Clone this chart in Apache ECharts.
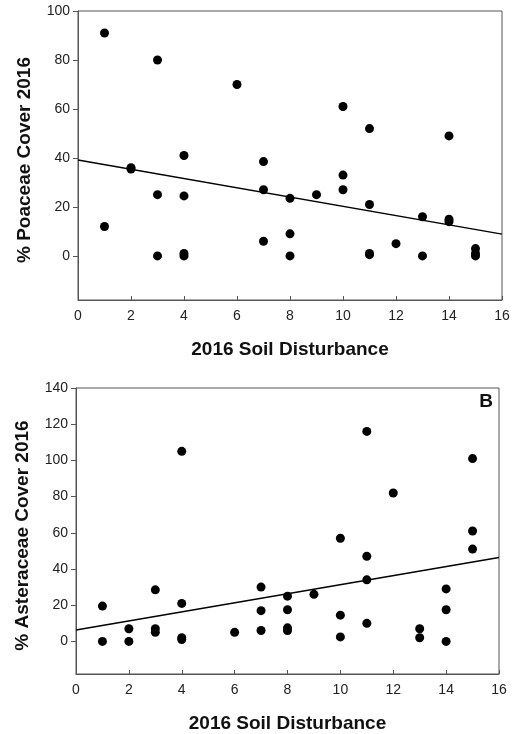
<!DOCTYPE html>
<html>
<head>
<meta charset="utf-8">
<script src="https://cdn.jsdelivr.net/npm/echarts@6/dist/echarts.min.js"></script>
<style>
html,body{margin:0;padding:0;background:#fff;}
#chart{width:515px;height:734px;}
</style>
</head>
<body>
<div id="chart"></div>
<script>
// ---- Data ----
var xTicks = [0, 2, 4, 6, 8, 10, 12, 14, 16];
var yTicksTop = [0, 20, 40, 60, 80, 100];
var yTicksBottom = [0, 20, 40, 60, 80, 100, 120, 140];

var poaceaeX = [1, 1, 2, 2, 3, 3, 3, 4, 4, 4, 4, 6, 7, 7, 7, 8, 8, 8, 9, 10, 10, 10, 11, 11, 11, 11, 12, 13, 13, 14, 14, 14, 15, 15, 15];
var poaceaeY = [91, 12, 36, 35.5, 80, 25, 0, 41, 24.5, 1, 0, 70, 38.5, 27, 6, 23.5, 9, 0, 25, 61, 33, 27, 52, 21, 1, 0.5, 5, 16, 0, 49, 15, 14, 3, 1, 0];
var poaceaeFitX = [0, 16];
var poaceaeFitY = [39.2, 8.9];

var asteraceaeX = [1, 1, 2, 2, 3, 3, 3, 4, 4, 4, 4, 6, 7, 7, 7, 8, 8, 8, 8, 9, 10, 10, 10, 11, 11, 11, 11, 12, 13, 13, 14, 14, 14, 15, 15, 15];
var asteraceaeY = [19.5, 0, 7, 0, 28.5, 7, 5, 105, 21, 2, 1, 5, 30, 17, 6, 25, 17.5, 7.5, 6, 26, 57, 14.5, 2.5, 116, 47, 34, 10, 82, 7, 2, 29, 17.5, 0, 101, 61, 51];
var asteraceaeFitX = [0, 16];
var asteraceaeFitY = [6.3, 46.3];

var xTitle = '2016 Soil Disturbance';
var yTitleTop = '% Poaceae Cover 2016';
var yTitleBottom = '% Asteraceae Cover 2016';
var panelLabel = 'B';

function pairs(xs, ys) { return xs.map(function (x, i) { return [x, ys[i]]; }); }

var FONT = 'Liberation Sans, Arial, sans-serif';
var AXIS_COLOR = '#555';

function xAxisCfg(gridIndex) {
  return {
    gridIndex: gridIndex, type: 'value', min: 0, max: 16, interval: 2,
    name: xTitle, nameLocation: 'middle', nameGap: 40,
    nameTextStyle: { fontFamily: FONT, fontSize: 19, fontWeight: 'bold', color: '#111' },
    axisLine: { show: true, onZero: false, lineStyle: { color: AXIS_COLOR, width: 1 } },
    axisTick: { show: true, inside: true, length: 4, customValues: xTicks, lineStyle: { color: AXIS_COLOR } },
    axisLabel: { fontFamily: FONT, fontSize: 14, color: '#222', margin: 9, customValues: xTicks },
    splitLine: { show: false }
  };
}
function yAxisCfg(gridIndex, max, ticks, title) {
  return {
    gridIndex: gridIndex, type: 'value', min: -18, max: max,
    name: title, nameLocation: 'middle', nameGap: 44,
    nameTextStyle: { fontFamily: FONT, fontSize: 19, fontWeight: 'bold', color: '#111', padding: [0, 9, 0, 0] },
    axisLine: { show: true, onZero: false, lineStyle: { color: AXIS_COLOR, width: 1 } },
    axisTick: { show: true, inside: false, length: 5, customValues: ticks, lineStyle: { color: AXIS_COLOR } },
    axisLabel: { fontFamily: FONT, fontSize: 14, color: '#222', margin: 8, customValues: ticks },
    splitLine: { show: false }
  };
}

var chart = echarts.init(document.getElementById('chart'), null, { renderer: 'canvas' });
chart.setOption({
  animation: false,
  backgroundColor: '#fff',
  grid: [
    { left: 78, top: 11, width: 424, height: 289, show: true, borderColor: AXIS_COLOR, borderWidth: 1 },
    { left: 76, top: 388, width: 423, height: 289, show: true, borderColor: AXIS_COLOR, borderWidth: 1 }
  ],
  xAxis: [xAxisCfg(0), xAxisCfg(1)],
  yAxis: [yAxisCfg(0, 100, yTicksTop, yTitleTop), yAxisCfg(1, 140, yTicksBottom, yTitleBottom)],
  graphic: [{
    type: 'text', right: 22, top: 392,
    style: { text: panelLabel, font: 'bold 19px ' + FONT, fill: '#111' }
  }],
  series: [
    { type: 'scatter', xAxisIndex: 0, yAxisIndex: 0, data: pairs(poaceaeX, poaceaeY),
      symbolSize: 9, itemStyle: { color: '#000', opacity: 1 } },
    { type: 'line', xAxisIndex: 0, yAxisIndex: 0, data: pairs(poaceaeFitX, poaceaeFitY),
      symbol: 'none', lineStyle: { color: '#000', width: 1.5 } },
    { type: 'scatter', xAxisIndex: 1, yAxisIndex: 1, data: pairs(asteraceaeX, asteraceaeY),
      symbolSize: 9, itemStyle: { color: '#000', opacity: 1 } },
    { type: 'line', xAxisIndex: 1, yAxisIndex: 1, data: pairs(asteraceaeFitX, asteraceaeFitY),
      symbol: 'none', lineStyle: { color: '#000', width: 1.5 } }
  ]
});
</script>
</body>
</html>
